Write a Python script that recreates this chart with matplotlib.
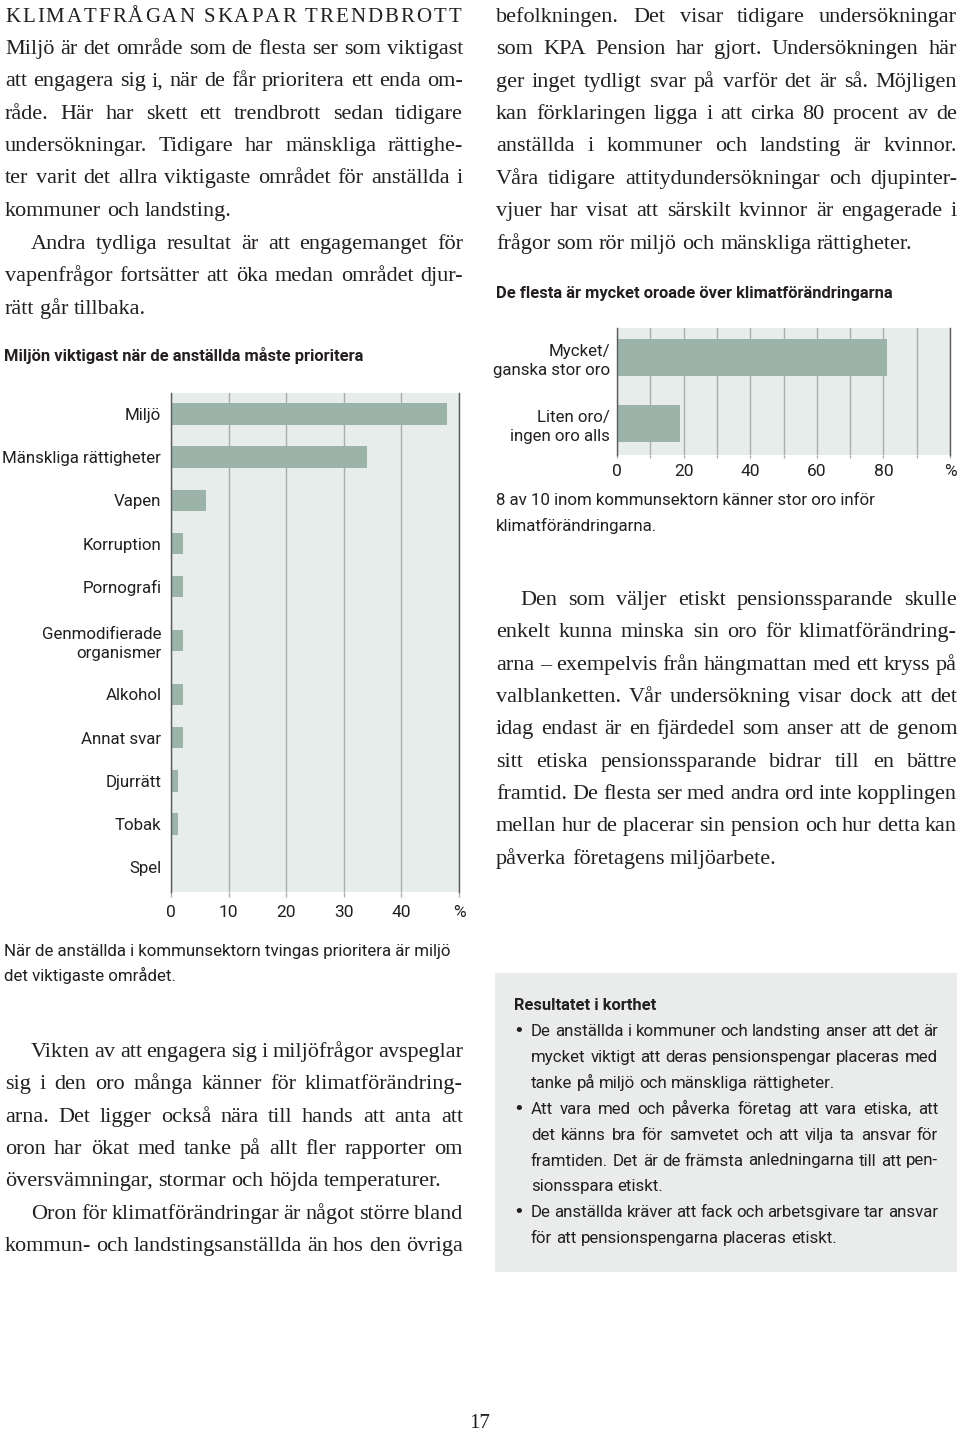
import matplotlib
matplotlib.use("Agg")
import matplotlib.pyplot as plt
from matplotlib.font_manager import FontProperties
from matplotlib.patches import Rectangle

W, H = 960, 1436
INK = "#231f20"
BAR = "#9cb3a9"
PANEL = "#e7edea"
BOX = "#e9eceb"
GRID = "#a9aeab"
SPINE = "#5a5a5a"

# --- chart data -------------------------------------------------------------
topics = ["Miljö", "Mänskliga rättigheter", "Vapen", "Korruption", "Pornografi",
          "Genmodifierade\norganismer", "Alkohol", "Annat svar", "Djurrätt",
          "Tobak", "Spel"]
topic_pct = [48, 34, 6, 2, 2, 2, 2, 2, 1.2, 1.2, 0]
topic_ticks = [0, 10, 20, 30, 40, 50]
topic_ticklabels = ["0", "10", "20", "30", "40", "%"]

worry = ["Mycket/\nganska stor oro", "Liten oro/\ningen oro alls"]
worry_pct = [81, 19]
worry_ticks = [0, 20, 40, 60, 80, 100]
worry_ticklabels = ["0", "20", "40", "60", "80", "%"]

# --- text -------------------------------------------------------------------
heading = "KLIMATFRÅGAN SKAPAR TRENDBROTT"
left_p1 = ["Miljö är det område som de flesta ser som viktigast",
           "att engagera sig i, när de får prioritera ett enda om-",
           "råde. Här har skett ett trendbrott sedan tidigare",
           "undersökningar. Tidigare har mänskliga rättighe-",
           "ter varit det allra viktigaste området för anställda i",
           "kommuner och landsting."]
left_p2 = ["Andra tydliga resultat är att engagemanget för",
           "vapenfrågor fortsätter att öka medan området djur-",
           "rätt går tillbaka."]
left_p3 = ["Vikten av att engagera sig i miljöfrågor avspeglar",
           "sig i den oro många känner för klimatförändring-",
           "arna. Det ligger också nära till hands att anta att",
           "oron har ökat med tanke på allt fler rapporter om",
           "översvämningar, stormar och höjda temperaturer."]
left_p4 = ["Oron för klimatförändringar är något större bland",
           "kommun- och landstingsanställda än hos den övriga"]
right_p1 = ["befolkningen. Det visar tidigare undersökningar",
            "som KPA Pension har gjort. Undersökningen här",
            "ger inget tydligt svar på varför det är så. Möjligen",
            "kan förklaringen ligga i att cirka 80 procent av de",
            "anställda i kommuner och landsting är kvinnor."]
right_p2 = ["Våra tidigare attitydundersökningar och djupinter-",
            "vjuer har visat att särskilt kvinnor är engagerade i",
            "frågor som rör miljö och mänskliga rättigheter."]
right_p3 = ["Den som väljer etiskt pensionssparande skulle",
            "enkelt kunna minska sin oro för klimatförändring-",
            "arna – exempelvis från hängmattan med ett kryss på",
            "valblanketten. Vår undersökning visar dock att det",
            "idag endast är en fjärdedel som anser att de genom",
            "sitt etiska pensionssparande bidrar till en bättre",
            "framtid. De flesta ser med andra ord inte kopplingen",
            "mellan hur de placerar sin pension och hur detta kan",
            "påverka företagens miljöarbete."]
title_left = "Miljön viktigast när de anställda måste prioritera"
title_right = "De flesta är mycket oroade över klimatförändringarna"
caption_left = ["När de anställda i kommunsektorn tvingas prioritera är miljö",
                "det viktigaste området."]
caption_right = ["8 av 10 inom kommunsektorn känner stor oro inför",
                 "klimatförändringarna."]
box_title = "Resultatet i korthet"
bullets = [["De anställda i kommuner och landsting anser att det är",
            "mycket viktigt att deras pensionspengar placeras med",
            "tanke på miljö och mänskliga rättigheter."],
           ["Att vara med och påverka företag att vara etiska, att",
            "det känns bra för samvetet och att vilja ta ansvar för",
            "framtiden. Det är de främsta anledningarna till att pen-",
            "sionsspara etiskt."],
           ["De anställda kräver att fack och arbetsgivare tar ansvar",
            "för att pensionspengarna placeras etiskt."]]

plt.rcParams["font.family"] = ["Roboto", "DejaVu Sans"]

serif = FontProperties(family="Liberation Serif", size=16)
caps = FontProperties(family="Liberation Serif", size=15)
sans = FontProperties(family="Roboto", size=12.2)
sans_b = FontProperties(family="Roboto", weight="bold", size=11.9)
dot = FontProperties(family="DejaVu Sans", size=13)
TICK_SIZE = 12.5

fig = plt.figure(figsize=(W / 100, H / 100), dpi=100)
fig.patch.set_facecolor("white")
R = fig.canvas.get_renderer()


def fx(x):
    return x / W


def fy(y):
    return 1 - y / H


def width(s, fp):
    return R.get_text_width_height_descent(s, fp, False)[0]


def put(x, y, s, fp, **kw):
    fig.text(fx(x), fy(y), s, fontproperties=fp, color=INK, va="baseline", **kw)


def line(x0, x1, y, s, fp, justify=True):
    words = s.split(" ")
    ws = [width(w, fp) for w in words]
    if justify and len(words) > 1:
        gap = (x1 - x0 - sum(ws)) / (len(words) - 1)
    else:
        gap = width("a a", fp) - width("aa", fp)
    x = x0
    for w, wd in zip(words, ws):
        put(x, y, w, fp)
        x += wd + gap


def paragraph(x0, x1, y0, lead, lines, fp, indent=0, last_full=False):
    for i, s in enumerate(lines):
        last = i == len(lines) - 1
        line(x0 + (indent if i == 0 else 0), x1, y0 + i * lead, s, fp,
             justify=(not last) or last_full)


def spaced(x0, x1, y, s, fp):
    ws = [width(c, fp) if c != " " else width("a a", fp) - width("aa", fp) for c in s]
    gap = (x1 - x0 - sum(ws)) / (len(s) - 1)
    x = x0
    for c, wd in zip(s, ws):
        if c != " ":
            put(x, y, c, fp)
        x += wd + gap


# --- body text --------------------------------------------------------------
LEAD = 32.35
LX0, LX1 = 5, 463
RX0, RX1 = 496, 957

spaced(LX0, LX1 - 2, 22, heading, caps)
paragraph(LX0, LX1, 54, LEAD, left_p1, serif)
paragraph(LX0, LX1, 249, LEAD, left_p2, serif, indent=26)
paragraph(LX0, LX1, 1057, LEAD, left_p3, serif, indent=26)
paragraph(LX0, LX1, 1219, LEAD, left_p4, serif, indent=26, last_full=True)

paragraph(RX0, RX1, 22, LEAD, right_p1, serif, last_full=True)
paragraph(RX0, RX1, 184, LEAD, right_p2, serif)
paragraph(RX0, RX1, 605, LEAD, right_p3, serif, indent=24)

put(4, 361, title_left, sans_b)
put(496, 298, title_right, sans_b)
for i, s in enumerate(caption_left):
    put(4, 956 + i * 25.5, s, sans)
for i, s in enumerate(caption_right):
    put(496, 505 + i * 26, s, sans)

# --- summary box ------------------------------------------------------------
fig.add_artist(Rectangle((fx(495), fy(1272)), (957 - 495) / W, (1272 - 973) / H,
                         transform=fig.transFigure, facecolor=BOX, edgecolor="none",
                         zorder=0))
put(514, 1010, box_title, sans_b)
y = 1036
for item in bullets:
    put(513, y, "•", dot)
    paragraph(531, 938, y, 25.9, item, sans)
    y += 25.9 * len(item)

put(480, 1428, "17", FontProperties(family="Liberation Serif", size=15), ha="center")


# --- charts -----------------------------------------------------------------
def style_axes(ax, xmax, grid_step, tick_len, tick_pad, ylab_pad):
    ax.set_facecolor(PANEL)
    ax.set_axisbelow(True)
    ax.set_xlim(0, xmax)
    for side in ("top", "bottom"):
        ax.spines[side].set_visible(False)
    for side in ("left", "right"):
        ax.spines[side].set_color(SPINE)
        ax.spines[side].set_linewidth(1.0)
    ax.set_xticks([v for v in range(grid_step, xmax, grid_step)], minor=True)
    ax.grid(True, axis="x", which="both", color=GRID, linewidth=1.0)
    ax.tick_params(axis="x", which="both", length=tick_len, width=1.0, color=GRID,
                   pad=tick_pad, labelsize=TICK_SIZE, labelcolor=INK)
    ax.tick_params(axis="y", length=0, pad=ylab_pad, labelsize=TICK_SIZE - 0.3,
                   labelcolor=INK)


# left chart: topics
pos = []
p = 0
for i, t in enumerate(topics):
    if "\n" in t and i:
        p += 0.25
    pos.append(p)
    p += 1.25 if "\n" in t else 1

ax1 = fig.add_axes([fx(171), fy(892), (459 - 171) / W, (892 - 393) / H])
ax1.barh(pos, topic_pct, height=0.5, color=BAR, zorder=2)
ax1.set_yticks(pos)
ax1.set_yticklabels(topics, linespacing=1.3)
ax1.set_ylim(pos[-1] + 0.58, -0.49)
style_axes(ax1, 50, 10, 3.6, 6, 7)
ax1.set_xticks(topic_ticks)
ax1.set_xticklabels(topic_ticklabels)

# right chart: worry
ax2 = fig.add_axes([fx(617), fy(455), (950 - 617) / W, (455 - 328) / H])
ax2.barh(range(len(worry)), worry_pct, height=0.56, color=BAR, zorder=2)
ax2.set_yticks(range(len(worry)))
ax2.set_yticklabels(worry, linespacing=1.3)
ax2.set_ylim(1.47, -0.45)
style_axes(ax2, 100, 10, 2.5, 4, 5)
ax2.set_xticks(worry_ticks)
ax2.set_xticklabels(worry_ticklabels)

fig.savefig("out.png", dpi=100)
